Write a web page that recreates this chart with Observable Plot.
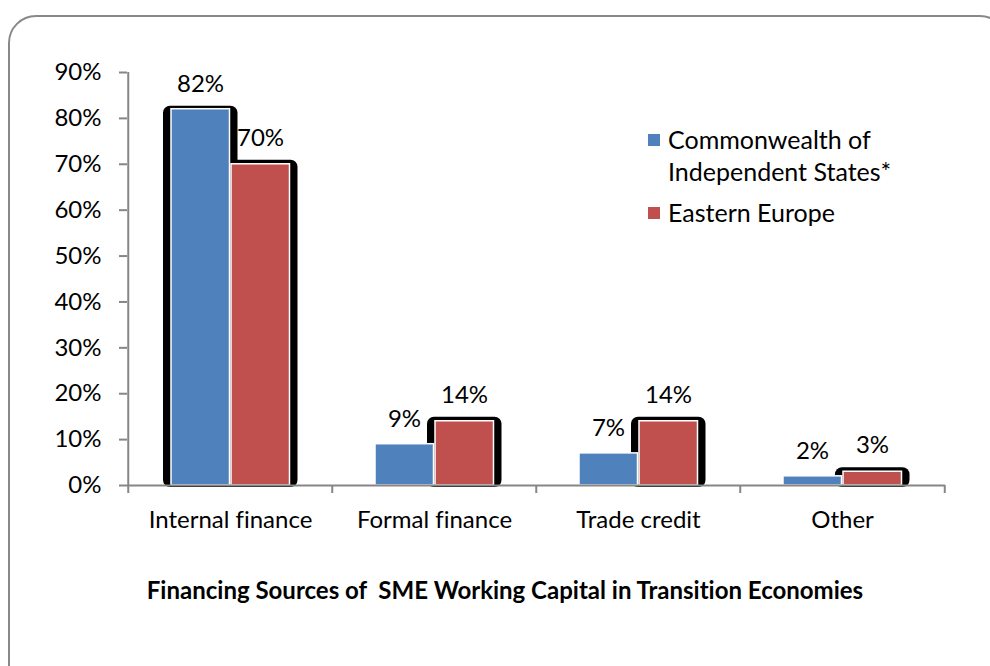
<!DOCTYPE html>
<html><head><meta charset="utf-8">
<script src="https://cdn.jsdelivr.net/npm/d3@7"></script>
<script src="https://cdn.jsdelivr.net/npm/@observablehq/plot@0.6"></script>
<style>
body{margin:0;background:#fff;font-family:Lato, "Open Sans", sans-serif;font-variant-ligatures:none;}
#wrap{position:relative;width:990px;height:666px;overflow:hidden;background:#fff;}
#box{position:absolute;left:8px;top:15px;width:1000px;height:700px;border:2px solid #898989;border-radius:28px;box-sizing:border-box;}
#chart{position:absolute;left:0;top:0;}
#chart svg{font-variant-ligatures:none;}
#legend{position:absolute;left:648px;top:123px;font-size:25px;line-height:32px;color:#000;}
.item{display:flex;align-items:flex-start;margin-bottom:9px;}
.sw{width:12px;height:12px;margin-top:11px;margin-right:8px;flex:none;}
#title{position:absolute;left:0;width:1010px;top:575px;text-align:center;font-weight:bold;font-size:24px;white-space:pre;color:#000;line-height:30px;}
</style>
</head><body>
<div id="wrap"><div id="box"></div><div id="chart"></div><div id="legend"></div><div id="title"></div></div>
<script>
const categories = ["Internal finance", "Formal finance", "Trade credit", "Other"];
const seriesNames = ["Commonwealth of Independent States*", "Eastern Europe"];
const legendLines = [["Commonwealth of", "Independent States*"], ["Eastern Europe"]];
const cisValues = [0.82, 0.09, 0.07, 0.02];
const eeValues = [0.70, 0.14, 0.14, 0.03];
const yTicks = [0, 0.1, 0.2, 0.3, 0.4, 0.5, 0.6, 0.7, 0.8, 0.9];
const colors = ["#4F81BD", "#C0504D"];
const titleText = "Financing Sources of  SME Working Capital in Transition Economies";

const data = categories.flatMap((c, i) => [
  {category: c, series: seriesNames[0], value: cisValues[i]},
  {category: c, series: seriesNames[1], value: eeValues[i]}
]);
const cis = data.filter(d => d.series === seriesNames[0]);
const ee = data.filter(d => d.series === seriesNames[1]);
const shadowedCis = cis.filter(d => d.category === categories[0]);

const gray = "#868686";
const pct = d3.format(".0%");
const halfBand = 102.25;
const blueInset = {insetLeft: 43, insetRight: 102.5};
const redInset = {insetLeft: 103, insetRight: 42.5};
const fs = 24;

const chart = Plot.plot({
  width: 990,
  height: 666,
  marginLeft: 127,
  marginRight: 45,
  marginTop: 72,
  marginBottom: 181,
  style: {fontFamily: "Lato, 'Open Sans', sans-serif", background: "transparent", color: "#000"},
  x: {domain: categories, padding: 0},
  y: {domain: [0, 0.9]},
  marks: [
    // shadows
    Plot.barY(shadowedCis, {
      x: "category", y: "value", fill: "black", rx: 7,
      insetLeft: blueInset.insetLeft - 8, insetRight: blueInset.insetRight - 8, insetTop: -3, insetBottom: -2
    }),
    Plot.barY(ee, {
      x: "category", y: "value", fill: "black", rx: 7,
      insetLeft: redInset.insetLeft - 8, insetRight: redInset.insetRight - 8, insetTop: -4, insetBottom: -2
    }),
    // bars
    Plot.barY(ee, {x: "category", y: "value", fill: colors[1], stroke: "white", strokeWidth: 1.5, ...redInset}),
    Plot.barY(cis, {x: "category", y: "value", fill: colors[0], stroke: "white", strokeWidth: 1.5, ...blueInset}),
    // axes
    Plot.ruleY([0], {stroke: gray, strokeWidth: 2}),
    Plot.ruleX([categories[0]], {x: d => d, dx: -halfBand, y1: 0.9, y2: 0, insetBottom: -8, stroke: gray, strokeWidth: 2}),
    Plot.ruleX(categories.slice(1), {x: d => d, dx: -halfBand, y1: 0, y2: 0, insetBottom: -8, stroke: gray, strokeWidth: 2}),
    Plot.ruleX([categories[categories.length - 1]], {x: d => d, dx: halfBand, y1: 0, y2: 0, insetBottom: -8, stroke: gray, strokeWidth: 2}),
    Plot.axisY({ticks: yTicks, tickFormat: pct, tickSize: 8, tickPadding: 18, fontSize: fs, stroke: gray, strokeWidth: 2, fill: "black", label: null}),
    Plot.axisX({tickSize: 0, tickPadding: 25, fontSize: fs, fill: "black", label: null}),
    // labels
    Plot.text(cis, {x: "category", y: "value", text: d => pct(d.value), dx: -30, dy: -25, fontSize: fs, fill: "black"}),
    Plot.text(ee, {x: "category", y: "value", text: d => pct(d.value), dx: 30, dy: -26, fontSize: fs, fill: "black"})
  ]
});
document.getElementById("chart").appendChild(chart);

const legend = document.getElementById("legend");
legendLines.forEach((lines, i) => {
  const item = document.createElement("div");
  item.className = "item";
  const sw = document.createElement("div");
  sw.className = "sw";
  sw.style.background = colors[i];
  const txt = document.createElement("div");
  txt.innerHTML = lines.join("<br>");
  item.appendChild(sw);
  item.appendChild(txt);
  legend.appendChild(item);
});
document.getElementById("title").textContent = titleText;
</script>
</body></html>
